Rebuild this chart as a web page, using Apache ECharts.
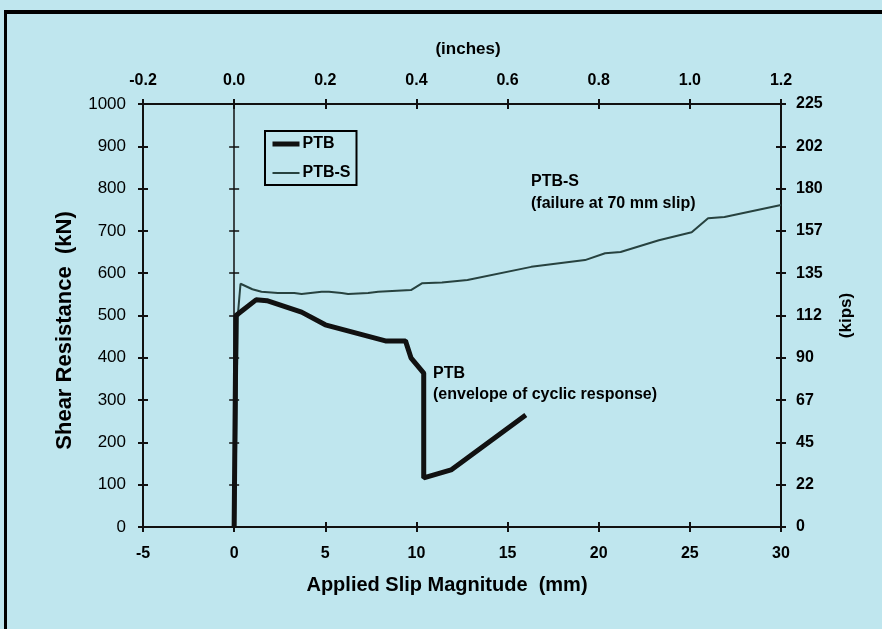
<!DOCTYPE html>
<html><head><meta charset="utf-8">
<script src="https://cdn.jsdelivr.net/npm/echarts@6/dist/echarts.min.js"></script>
<style>html,body{margin:0;padding:0;background:#bfe6ee}#c{width:882px;height:629px}</style>
</head><body><div id="c"></div>
<script>
const ptbX = [0, 0.1, 0.4, 1.2, 1.8, 3.7, 5.0, 8.3, 9.4, 9.7, 10.4, 10.4, 11.9, 16.0];
const ptbY = [0, 500, 510, 537, 535, 508, 478, 440, 440, 400, 364, 116, 135, 265];
const ptbsX = [0.05, 0.2, 0.35, 1.0, 1.5, 2.4, 3.3, 3.7, 4.8, 5.2, 5.9, 6.25, 7.35, 7.9, 9.7, 10.3, 11.4, 12.8, 16.3, 19.25, 20.35, 21.2, 23.3, 25.1, 26.0, 26.9, 30.0];
const ptbsY = [0, 500, 575, 562, 556, 553, 553, 551, 556, 556, 553, 551, 553, 556, 560, 576, 578, 584, 615, 631, 647, 650, 678, 697, 730, 733, 761];
const seriesNames = ['PTB', 'PTB-S'];
const kipsTicks = [0, 22, 45, 67, 90, 112, 135, 157, 180, 202, 225];

const zip = (xs, ys) => xs.map((x, i) => [x, ys[i]]);
const FONT = '"Liberation Sans", Arial, sans-serif';
const gridW = 638;
const zeroOffset = -(5 / 35) * gridW;

const lineAx = {show: true, onZero: false, lineStyle: {color: '#111', width: 2}};
const tickOut = {show: true, length: 5, lineStyle: {color: '#111', width: 2}};
const tickIn = {show: true, inside: true, length: 5, lineStyle: {color: '#111', width: 2}};
const chart = echarts.init(document.getElementById('c'));
chart.setOption({
  backgroundColor: '#bfe6ee',
  animation: false,
  grid: {left: 143, right: 101, top: 104, bottom: 102},
  legend: {
    left: 265, top: 131, orient: 'vertical', itemWidth: 27, itemHeight: 14, itemGap: 13,
    borderColor: '#000', borderWidth: 2, padding: [5, 6, 4, 5],
    itemStyle: {opacity: 0},
    textStyle: {fontFamily: FONT, fontWeight: 'bold', fontSize: 16, color: '#000', padding: [0, 0, 0, -2]},
    data: [
      {name: seriesNames[0], lineStyle: {width: 5, color: '#111'}},
      {name: seriesNames[1], lineStyle: {width: 2, color: '#27423f'}}
    ]
  },
  xAxis: [
    {type: 'value', position: 'bottom', min: -5, max: 30, interval: 5,
      name: 'Applied Slip Magnitude  (mm)', nameLocation: 'middle', nameGap: 48,
      nameTextStyle: {fontFamily: FONT, fontWeight: 'bold', fontSize: 20, color: '#000', padding: [0, 30, 0, 0]},
      axisLine: lineAx, axisTick: tickOut,
      axisLabel: {fontFamily: FONT, fontWeight: 'bold', fontSize: 16, color: '#000', margin: 19},
      splitLine: {show: false}},
    {type: 'value', position: 'top', min: -0.2, max: 1.2, interval: 0.2,
      name: '(inches)', nameLocation: 'middle', nameGap: 46,
      nameTextStyle: {fontFamily: FONT, fontWeight: 'bold', fontSize: 17, color: '#000', padding: [0, 0, 0, 12]},
      axisLine: lineAx, axisTick: tickOut,
      axisLabel: {fontFamily: FONT, fontWeight: 'bold', fontSize: 16, color: '#000', margin: 15,
        formatter: v => v.toFixed(1)},
      splitLine: {show: false}},
    {type: 'value', position: 'bottom', min: -5, max: 30, interval: 5,
      axisLine: lineAx, axisTick: tickIn, axisLabel: {show: false}, splitLine: {show: false}},
    {type: 'value', position: 'top', min: -0.2, max: 1.2, interval: 0.2,
      axisLine: lineAx, axisTick: tickIn, axisLabel: {show: false}, splitLine: {show: false}}
  ],
  yAxis: [
    {type: 'value', position: 'left', min: 0, max: 1000, interval: 100,
      name: 'Shear Resistance  (kN)', nameLocation: 'middle', nameGap: 67,
      nameTextStyle: {fontFamily: FONT, fontWeight: 'bold', fontSize: 22, color: '#000', padding: [0, 30, 0, 0]},
      axisLine: lineAx, axisTick: tickOut,
      axisLabel: {fontFamily: FONT, fontSize: 17, color: '#000', margin: 17, formatter: v => String(v)},
      splitLine: {show: false}},
    {type: 'value', position: 'right', min: 0, max: 225, interval: 22.5,
      name: '(kips)', nameLocation: 'middle', nameGap: 57, nameRotate: 90,
      nameTextStyle: {fontFamily: FONT, fontWeight: 'bold', fontSize: 17, color: '#000'},
      axisLine: lineAx, axisTick: tickOut,
      axisLabel: {fontFamily: FONT, fontWeight: 'bold', fontSize: 16, color: '#000', margin: 15,
        formatter: v => String(kipsTicks[Math.round(v / 22.5)])},
      splitLine: {show: false}},
    {type: 'value', position: 'left', min: 0, max: 1000, interval: 100,
      axisLine: lineAx, axisTick: tickIn, axisLabel: {show: false}, splitLine: {show: false}},
    {type: 'value', position: 'right', min: 0, max: 225, interval: 22.5,
      axisLine: lineAx, axisTick: tickIn, axisLabel: {show: false}, splitLine: {show: false}},
    {type: 'value', position: 'left', offset: zeroOffset, min: 0, max: 1000, interval: 100,
      axisLine: {show: true, onZero: false, lineStyle: {color: '#111', width: 1.5}},
      axisTick: {show: true, inside: true, length: 5, lineStyle: {color: '#111', width: 1.5}},
      axisLabel: {show: false}, splitLine: {show: false}},
    {type: 'value', position: 'left', offset: zeroOffset, min: 0, max: 1000, interval: 100,
      axisLine: {show: false, onZero: false},
      axisTick: {show: true, length: 5, lineStyle: {color: '#111', width: 1.5}},
      axisLabel: {show: false}, splitLine: {show: false}}
  ],
  series: [
    {name: seriesNames[0], type: 'line', xAxisIndex: 0, yAxisIndex: 0, symbol: 'none',
      lineStyle: {color: '#111', width: 5}, itemStyle: {color: '#111'},
      data: zip(ptbX, ptbY), z: 4},
    {name: seriesNames[1], type: 'line', xAxisIndex: 0, yAxisIndex: 0, symbol: 'none',
      lineStyle: {color: '#27423f', width: 2}, itemStyle: {color: '#27423f'},
      data: zip(ptbsX, ptbsY), z: 3}
  ],
  graphic: [
    {type: 'rect', left: 4, top: 10, shape: {width: 878, height: 4}, style: {fill: '#000'}},
    {type: 'rect', left: 4, top: 10, shape: {width: 3, height: 619}, style: {fill: '#000'}},
    {type: 'text', left: 531, top: 174, style: {text: 'PTB-S', font: 'bold 16px ' + FONT, fill: '#000'}},
    {type: 'text', left: 531, top: 196, style: {text: '(failure at 70 mm slip)', font: 'bold 16px ' + FONT, fill: '#000'}},
    {type: 'text', left: 433, top: 366, style: {text: 'PTB', font: 'bold 16px ' + FONT, fill: '#000'}},
    {type: 'text', left: 433, top: 387, style: {text: '(envelope of cyclic response)', font: 'bold 16px ' + FONT, fill: '#000'}}
  ]
});
</script></body></html>
